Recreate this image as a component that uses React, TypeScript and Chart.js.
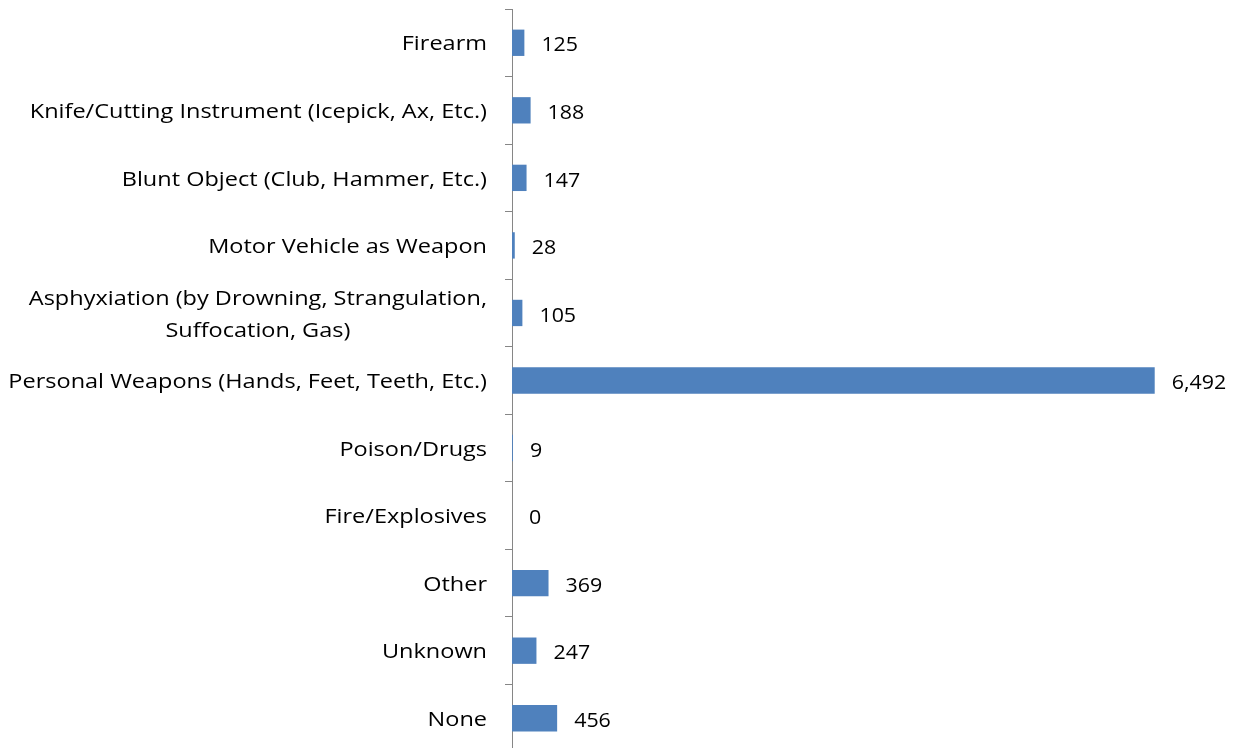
import React, { useEffect, useRef } from "react";
import { Chart, registerables } from "chart.js";

Chart.register(...registerables);

const categories: string[][] = [
  ["Firearm"],
  ["Knife/Cutting Instrument (Icepick, Ax, Etc.)"],
  ["Blunt Object (Club, Hammer, Etc.)"],
  ["Motor Vehicle as Weapon"],
  ["Asphyxiation (by Drowning, Strangulation,", "Suffocation, Gas)"],
  ["Personal Weapons (Hands, Feet, Teeth, Etc.)"],
  ["Poison/Drugs"],
  ["Fire/Explosives"],
  ["Other"],
  ["Unknown"],
  ["None"],
];

const values: number[] = [125, 188, 147, 28, 105, 6492, 9, 0, 369, 247, 456];

const FONT = '"Open Sans", sans-serif';

function drawStretched(ctx: any, text: string, x: number, y: number, sx: number, align: string) {
  ctx.save();
  ctx.translate(x, y);
  ctx.scale(sx, 1);
  ctx.textAlign = align;
  ctx.fillText(text, 0, 0);
  ctx.restore();
}

const labelPlugin = {
  id: "customLabels",
  afterDraw(chart: any) {
    const ctx = chart.ctx;
    const yScale = chart.scales.y;
    const xScale = chart.scales.x;
    ctx.save();
    ctx.fillStyle = "#000";
    ctx.textBaseline = "middle";
    // category labels
    ctx.font = `20px ${FONT}`;
    const catScale = 1.175;
    const rightX = chart.chartArea.left - 25;
    const lineH = 32;
    categories.forEach((lines, i) => {
      const cy = yScale.getPixelForValue(i) + 2;
      const widths = lines.map((l) => ctx.measureText(l).width * catScale);
      const maxW = Math.max(...widths);
      const centerX = rightX - maxW / 2;
      const startY = cy - ((lines.length - 1) * lineH) / 2;
      lines.forEach((l, j) => {
        drawStretched(ctx, l, centerX, startY + j * lineH, catScale, "center");
      });
    });
    // value labels
    ctx.font = `20px ${FONT}`;
    values.forEach((v, i) => {
      const x = xScale.getPixelForValue(v) + 17;
      const y = yScale.getPixelForValue(i) + 3;
      drawStretched(ctx, v.toLocaleString("en-US"), x, y, 1.07, "left");
    });
    ctx.restore();
  },
};

export default function App() {
  const ref = useRef<HTMLCanvasElement | null>(null);
  useEffect(() => {
    if (!ref.current) return;
    const chart = new Chart(ref.current, {
      type: "bar",
      data: {
        labels: categories.map((c) => c.join(" ")),
        datasets: [
          {
            data: values,
            backgroundColor: "#4F81BD",
            borderWidth: 0,
            categoryPercentage: 0.39,
            barPercentage: 1,
          },
        ],
      },
      options: {
        indexAxis: "y",
        animation: false,
        responsive: false,
        maintainAspectRatio: false,
        layout: { padding: { left: 505, right: 32, top: 9, bottom: 8 } },
        plugins: {
          legend: { display: false },
          tooltip: { enabled: false },
        },
        scales: {
          x: {
            display: false,
            min: 0,
            max: 7000,
          },
          y: {
            type: "category",
            offset: true,
            grid: {
              display: true,
              offset: true,
              drawOnChartArea: false,
              drawTicks: true,
              tickLength: 7,
              color: "#868686",
              lineWidth: 1,
            },
            border: { display: true, color: "#868686", width: 1 },
            ticks: { display: false },
          },
        },
      },
      plugins: [labelPlugin],
    });
    return () => chart.destroy();
  }, []);
  return (
    <div
      style={{
        position: "fixed",
        left: 0,
        top: 0,
        width: 1237,
        height: 748,
        overflow: "hidden",
        background: "#fff",
      }}
    >
      <canvas ref={ref} width={1237} height={760} style={{ display: "block" }} />
    </div>
  );
}
